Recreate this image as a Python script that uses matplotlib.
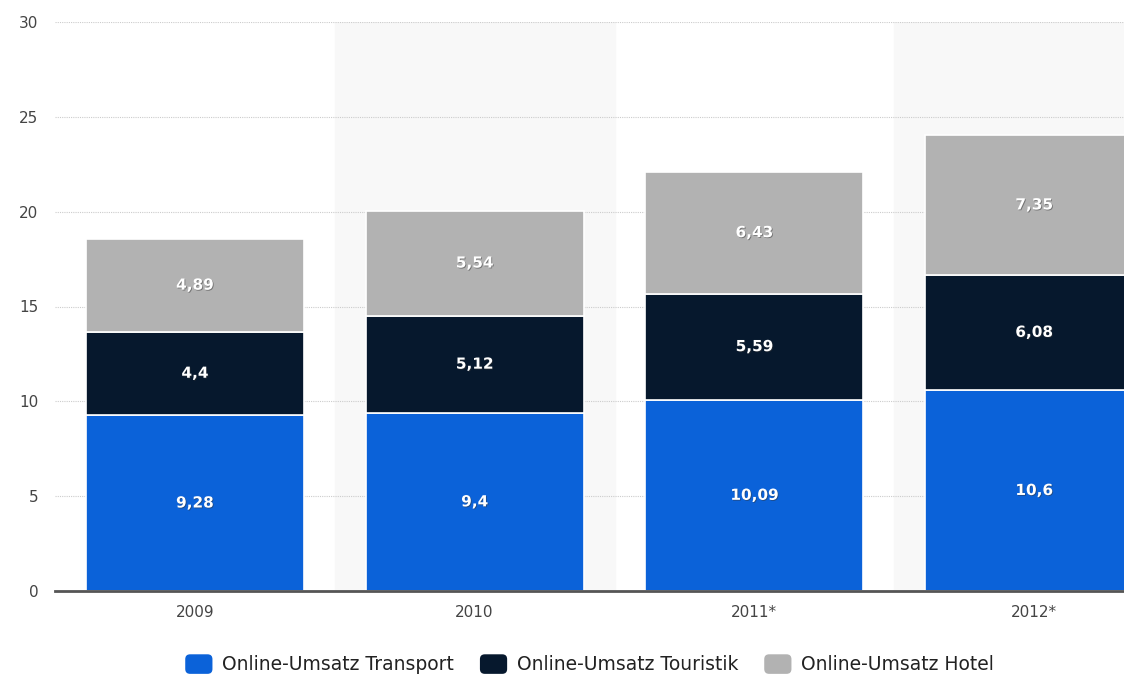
import matplotlib.pyplot as plt
import matplotlib.patheffects as pe
from matplotlib.patches import FancyBboxPatch, Patch
from matplotlib.legend_handler import HandlerPatch
import numpy as np

years = ['2009', '2010', '2011*', '2012*']
transport = [9.28, 9.4, 10.09, 10.6]
touristik = [4.4, 5.12, 5.59, 6.08]
hotel = [4.89, 5.54, 6.43, 7.35]
series_names = ['Online-Umsatz Transport', 'Online-Umsatz Touristik', 'Online-Umsatz Hotel']
colors = ['#0b62d9', '#06182d', '#b2b2b2']

plt.rcParams['font.family'] = ['DejaVu Sans']


class RoundHandler(HandlerPatch):
    # legend marker as rounded square
    def create_artists(self, legend, orig_handle, xdescent, ydescent,
                       width, height, fontsize, trans):
        p = FancyBboxPatch((-xdescent + 1, -ydescent - 1), width - 2, height + 2,
                           boxstyle='round,pad=0,rounding_size=3.5',
                           facecolor=orig_handle.get_facecolor(), edgecolor='none',
                           transform=trans)
        return [p]


fig = plt.figure(figsize=(11.24, 6.77), dpi=100)
ax = fig.add_axes([55 / 1124, 86 / 677, 1119 / 1124, 569 / 677])

x = np.arange(len(years))

# alternating background bands
for i in x:
    if i % 2 == 1:
        ax.axvspan(i - 0.5, i + 0.5, color='#f8f8f8', zorder=0)

ax.set_yticks(range(0, 31, 5))
ax.yaxis.grid(True, linestyle=(0, (1, 1)), color='#cccccc', linewidth=0.8, zorder=1)
ax.set_axisbelow(True)

bottom = np.zeros(len(years))
for vals, col in zip([transport, touristik, hotel], colors):
    ax.bar(x, vals, width=0.78, bottom=bottom, color=col,
           edgecolor='white', linewidth=1.2, zorder=3)
    for xi, b, v in zip(x, bottom, vals):
        ax.text(xi, b + v / 2, str(v).replace('.', ','), ha='center', va='center',
                color='white', fontsize=11, fontweight='bold', zorder=4,
                path_effects=[pe.withSimplePatchShadow(offset=(0.6, -0.6),
                                                        shadow_rgbFace='#333333', alpha=0.5)])
    bottom += np.array(vals)

ax.set_xlim(-0.5, 3.5)
ax.set_ylim(0, 30)
ax.set_xticks(x)
ax.set_xticklabels(years)
for s in ['top', 'right', 'left']:
    ax.spines[s].set_visible(False)
ax.spines['bottom'].set_color('#555555')
ax.spines['bottom'].set_linewidth(2)
ax.spines['bottom'].set_zorder(5)
ax.tick_params(axis='both', length=0, labelsize=11, labelcolor='#444444')
ax.tick_params(axis='x', pad=10)
ax.tick_params(axis='y', pad=12)

handles = [Patch(facecolor=c) for c in colors]
fig.legend(handles, series_names, loc='center', bbox_to_anchor=(589 / 1124, 1 - 665 / 677),
           ncol=3, frameon=False, fontsize=13.5, handlelength=1.6, handleheight=1.0,
           handletextpad=0.45, columnspacing=1.3, labelcolor='#222222',
           handler_map={Patch: RoundHandler()})

fig.savefig('out.png', dpi=100)
